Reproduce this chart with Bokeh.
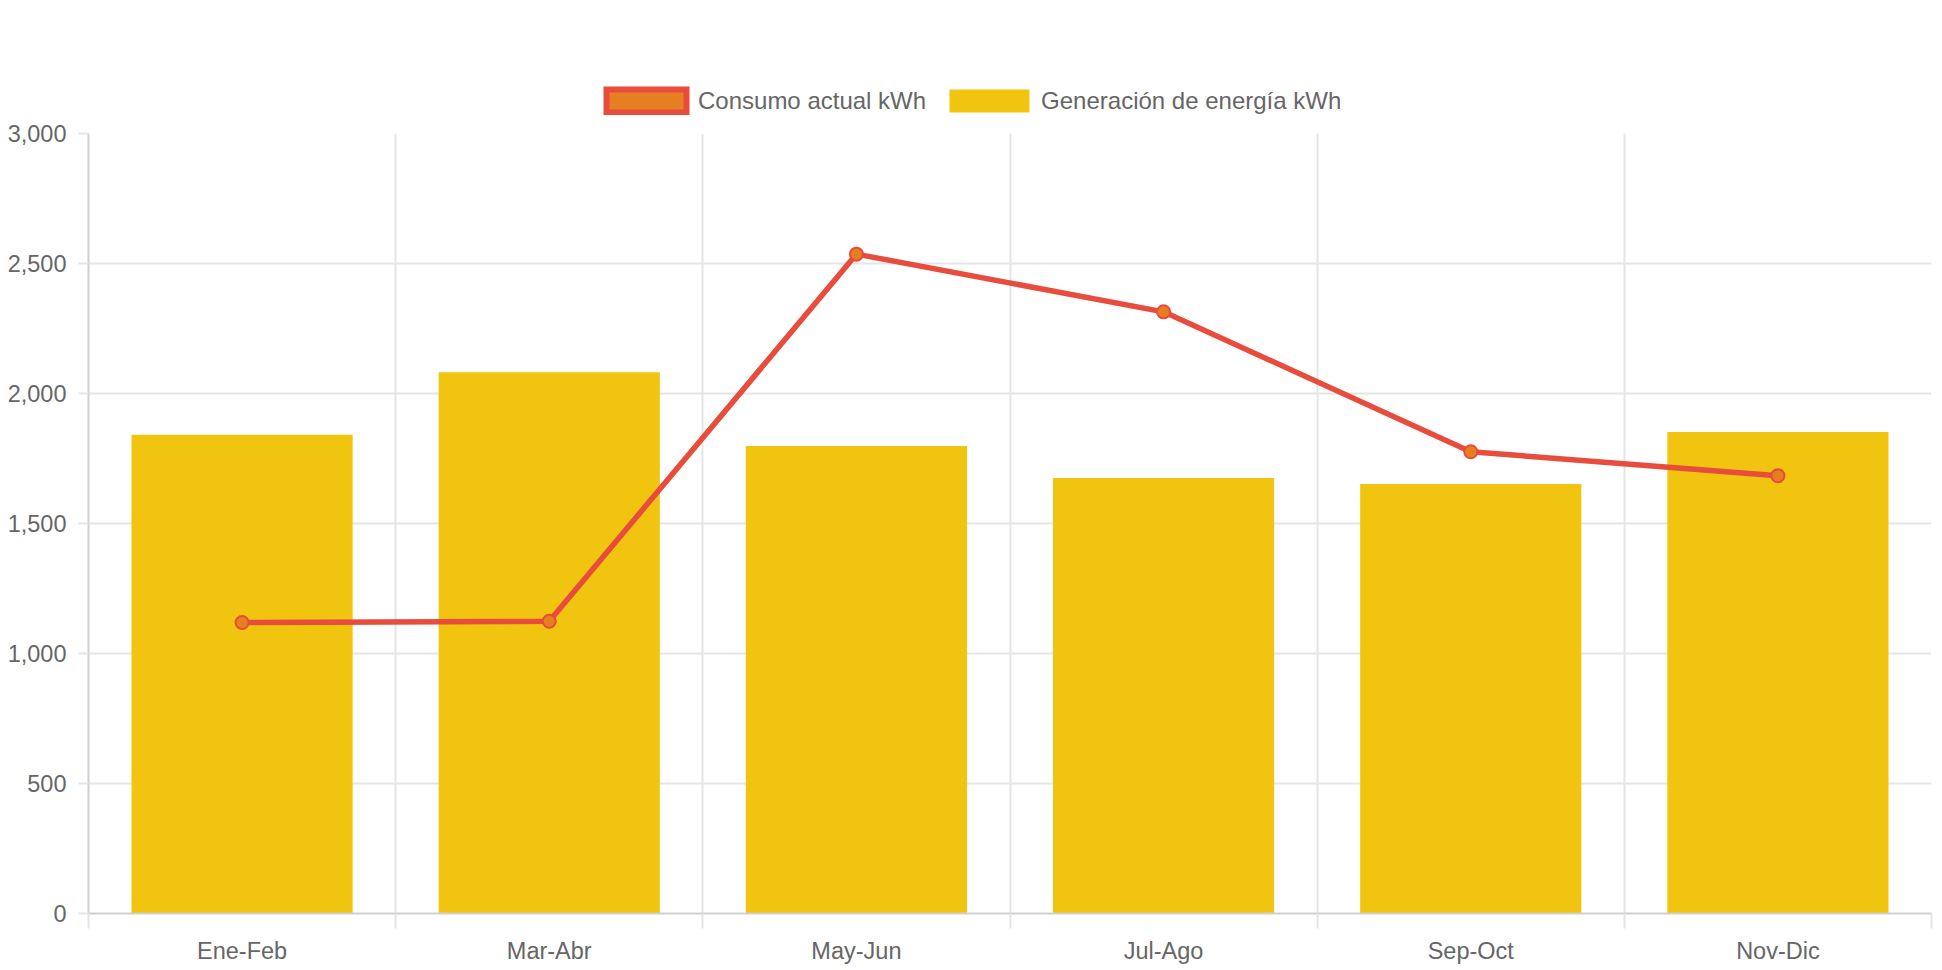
import numpy as np
from bokeh.plotting import figure
from bokeh.layouts import column
from bokeh.models import (ColumnDataSource, Range1d, FixedTicker, NumeralTickFormatter,
                          Legend, LegendItem)
from bokeh.embed import file_html
from bokeh.resources import INLINE

# ---- data ----
categories = ["Ene-Feb", "Mar-Abr", "May-Jun", "Jul-Ago", "Sep-Oct", "Nov-Dic"]
generacion_kwh = [1841, 2082, 1798, 1675, 1652, 1852]
consumo_kwh = [1119, 1124, 2536, 2314, 1776, 1684]
y_ticks = [0, 500, 1000, 1500, 2000, 2500, 3000]
series_labels = ["Consumo actual kWh", "Generación de energía kWh"]

FONT = "Liberation Sans"
FSIZE = "23.5px"
TXT = "#666666"
GRID = "#e5e5e5"
AXIS = "#d0d0d0"
BAR = "#f1c40f"
LINE = "#e74c3c"
POINT = "#e67e22"

W = 1938
LEG_H = 118

n = len(categories)
centers = (np.arange(n) + 0.5).tolist()
bounds = np.arange(n + 1).tolist()

src = ColumnDataSource(dict(x=centers, cat=categories, gen=generacion_kwh, cons=consumo_kwh))

# ---------- legend strip ----------
leg = figure(width=W, height=LEG_H, output_backend="svg", toolbar_location=None,
             x_axis_location=None, y_axis_location=None, min_border=0,
             x_range=Range1d(0, n), y_range=Range1d(y_ticks[0], y_ticks[-1]))
leg.outline_line_color = None
leg.grid.grid_line_color = None
leg_cons = leg.vbar(x="x", top="cons", width=0.72, source=src, fill_color=POINT,
                    line_color=LINE, line_width=6, line_join="miter", visible=False)
leg_gen = leg.vbar(x="x", top="gen", width=0.72, source=src, fill_color=BAR,
                   line_color=None, visible=False)
legend = Legend(items=[LegendItem(label=series_labels[0], renderers=[leg_cons]),
                       LegendItem(label=series_labels[1], renderers=[leg_gen])],
                orientation="horizontal", location=(508, 3),
                glyph_width=100, glyph_height=29, label_standoff=2, spacing=13,
                padding=0, margin=0, border_line_color=None, background_fill_alpha=0,
                label_text_font=FONT, label_text_font_size="24px", label_text_color=TXT,
                label_height=29)
leg.add_layout(legend, "center")

# ---------- main chart ----------
p = figure(width=W, height=966 - LEG_H, output_backend="svg", toolbar_location=None,
           x_range=Range1d(0, n), y_range=Range1d(y_ticks[0], y_ticks[-1]),
           min_border_left=88, min_border_right=7, min_border_top=15, min_border_bottom=53)
p.outline_line_color = None
p.background_fill_color = "white"

p.vbar(x="x", top="gen", width=0.72, source=src, fill_color=BAR, line_color=None)
p.line(x="x", y="cons", source=src, line_color=LINE, line_width=5.5)
p.scatter(x="x", y="cons", source=src, marker="circle", size=13,
          fill_color=POINT, line_color=LINE, line_width=2)

# x axis
xa = p.xaxis[0]
xa.ticker = FixedTicker(ticks=centers, minor_ticks=bounds)
xa.major_label_overrides = {c: lab for c, lab in zip(centers, categories)}
xa.major_tick_out = 0
xa.major_tick_in = 0
xa.minor_tick_out = 15
xa.minor_tick_in = 0
xa.minor_tick_line_color = GRID
xa.minor_tick_line_width = 2
xa.major_label_standoff = 9
xa.axis_line_color = AXIS
xa.axis_line_width = 2

# y axis
ya = p.yaxis[0]
ya.ticker = FixedTicker(ticks=y_ticks)
ya.formatter = NumeralTickFormatter(format="0,0")
ya.major_tick_out = 10
ya.major_tick_in = 0
ya.minor_tick_line_color = None
ya.major_tick_line_color = GRID
ya.major_tick_line_width = 2
ya.major_label_standoff = 12
ya.axis_line_color = AXIS
ya.axis_line_width = 2

for ax in (xa, ya):
    ax.major_label_text_font = FONT
    ax.major_label_text_font_size = FSIZE
    ax.major_label_text_color = TXT

p.xgrid.ticker = FixedTicker(ticks=bounds)
p.xgrid.grid_line_color = GRID
p.xgrid.grid_line_width = 2
p.ygrid.grid_line_color = GRID
p.ygrid.grid_line_width = 2

layout = column(leg, p, spacing=0)
open("out.html", "w").write(file_html(layout, INLINE))
